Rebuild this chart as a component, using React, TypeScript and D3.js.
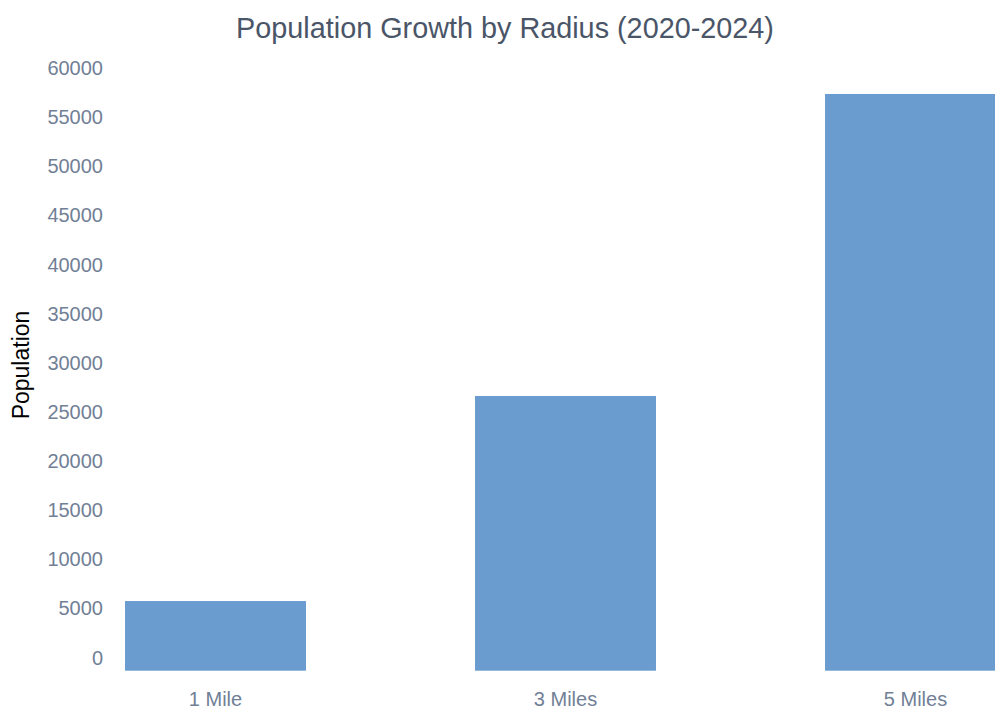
import React from "react";
import * as d3 from "d3";

const categories: string[] = ["1 Mile", "3 Miles", "5 Miles"];
const populationGrowth: number[] = [7090, 27960, 58700];
const yTicks: number[] = [0, 5000, 10000, 15000, 20000, 25000, 30000, 35000, 40000, 45000, 50000, 55000, 60000];
const chartTitle = "Population Growth by Radius (2020-2024)";
const yAxisTitle = "Population";

const W = 995;
const H = 708;
const FONT = "'Liberation Sans', Arial, sans-serif";

export default function App() {
  const x = d3
    .scaleBand<string>()
    .domain(categories)
    .range([40.5, 1090.5])
    .paddingInner(0.483)
    .paddingOuter(0.2415);
  const y = d3.scaleLinear().domain([0, 60000]).range([670.7, 81.2]);
  const labelShift = 13.2;

  return (
    <svg
      width={W}
      height={H}
      style={{ position: "absolute", left: 0, top: 0, background: "#fff" }}
    >
      <text
        x={505}
        y={28}
        dy="0.35em"
        textAnchor="middle"
        fontFamily={FONT}
        fontSize={28.8}
        fill="#4a5568"
      >
        {chartTitle}
      </text>
      <g>
        {yTicks.map((t) => (
          <text
            key={t}
            x={103}
            y={y(t) - labelShift}
            dy="0.35em"
            textAnchor="end"
            fontFamily={FONT}
            fontSize={20}
            fill="#718096"
          >
            {t}
          </text>
        ))}
      </g>
      <text
        transform="translate(21,365) rotate(-90)"
        dy="0.35em"
        textAnchor="middle"
        fontFamily={FONT}
        fontSize={23}
        fill="#000"
      >
        {yAxisTitle}
      </text>
      <g>
        {categories.map((c, i) => (
          <rect
            key={c}
            x={x(c)}
            y={y(populationGrowth[i])}
            width={x.bandwidth()}
            height={y(0) - y(populationGrowth[i])}
            fill="#6a9ccf"
          />
        ))}
      </g>
      <g>
        {categories.map((c) => (
          <text
            key={c}
            x={(x(c) as number) + x.bandwidth() / 2}
            y={699}
            dy="0.35em"
            textAnchor="middle"
            fontFamily={FONT}
            fontSize={20}
            fill="#718096"
          >
            {c}
          </text>
        ))}
      </g>
    </svg>
  );
}
